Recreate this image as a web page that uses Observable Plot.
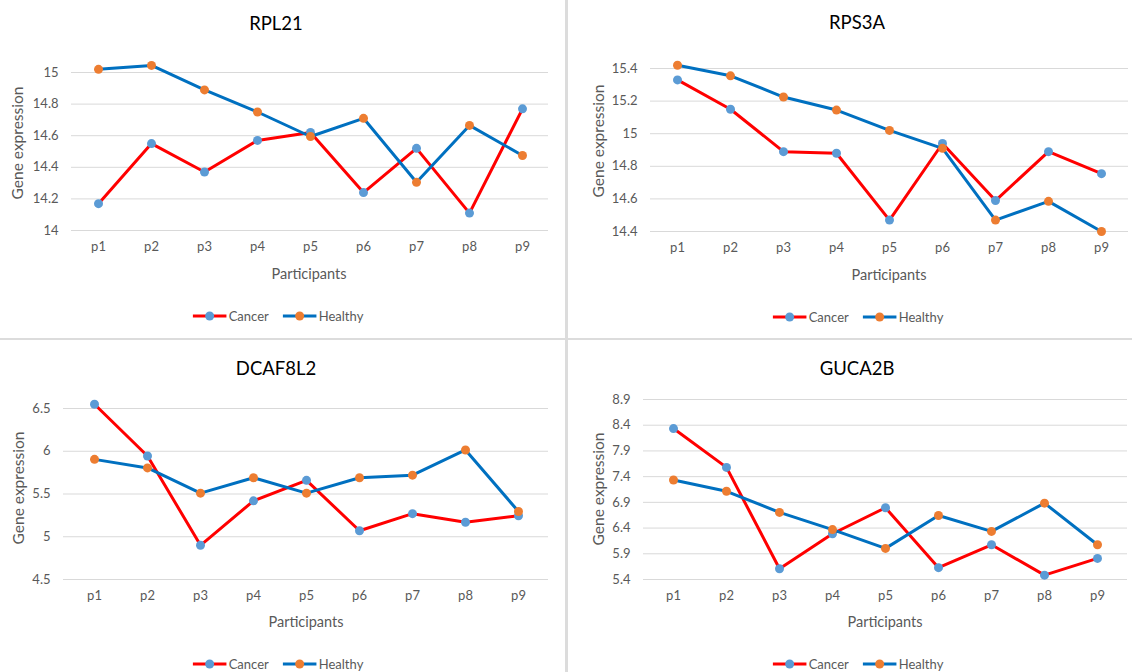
<!DOCTYPE html>
<html><head><meta charset="utf-8">
<script src="https://cdn.jsdelivr.net/npm/d3@7"></script>
<script src="https://cdn.jsdelivr.net/npm/@observablehq/plot@0.6"></script>
<style>
body{margin:0;background:#fff;font-family:Lato,"Open Sans",sans-serif;}
#root{position:relative;width:1132px;height:672px;overflow:hidden;background:#fff;}
.abs{position:absolute;}
.title{font-size:18.5px;color:#000;transform:translate(-50%,-50%);white-space:nowrap;}
.xlab{font-size:14.5px;color:#595959;transform:translate(-50%,-50%);white-space:nowrap;}
.ylab{font-size:15.5px;color:#595959;transform:translate(-50%,-50%) rotate(-90deg);white-space:nowrap;}
.legend{display:flex;align-items:center;gap:14px;transform:translate(-50%,-50%);font-size:13px;color:#595959;white-space:nowrap;}
.item{display:flex;align-items:center;gap:2px;}
.divider{position:absolute;background:#dcdcdc;}
</style></head><body><div id="root"></div>
<script>
const participants = ["p1","p2","p3","p4","p5","p6","p7","p8","p9"];
const seriesNames = ["Cancer","Healthy"];
const rpl21Cancer   = [14.17,14.55,14.37,14.57,14.62,14.24,14.52,14.11,14.77];
const rpl21Healthy  = [15.02,15.045,14.89,14.75,14.595,14.71,14.305,14.665,14.475];
const rps3aCancer   = [15.33,15.15,14.89,14.88,14.47,14.94,14.59,14.89,14.755];
const rps3aHealthy  = [15.42,15.355,15.225,15.145,15.02,14.91,14.47,14.585,14.40];
const dcaf8l2Cancer = [6.55,5.945,4.9,5.42,5.66,5.07,5.27,5.17,5.245];
const dcaf8l2Healthy= [5.905,5.805,5.51,5.69,5.51,5.69,5.72,6.015,5.295];
const guca2bCancer  = [8.335,7.58,5.61,6.29,6.795,5.63,6.075,5.485,5.81];
const guca2bHealthy = [7.335,7.115,6.705,6.37,6.005,6.645,6.335,6.885,6.075];
const rpl21Ticks   = [14,14.2,14.4,14.6,14.8,15];
const rps3aTicks   = [14.4,14.6,14.8,15,15.2,15.4];
const dcaf8l2Ticks = [4.5,5,5.5,6,6.5];
const guca2bTicks  = [5.4,5.9,6.4,6.9,7.4,7.9,8.4,8.9];
const titles = ["RPL21","RPS3A","DCAF8L2","GUCA2B"];
const xLabel = "Participants";
const yLabel = "Gene expression";

const lineColors = ["#FF0000","#0070C0"];
const markerColors = ["#5B9BD5","#ED7D31"];

const panels = [
  {title:titles[0], c:rpl21Cancer, h:rpl21Healthy, ticks:rpl21Ticks,
   left:0, top:0, width:566, height:260, mL:71, mR:18, mT:72, mB:30,
   tx:276, ty:23, xlx:309, xly:273, ylx:17, yly:143, lgx:278, lgy:316},
  {title:titles[1], c:rps3aCancer, h:rps3aHealthy, ticks:rps3aTicks,
   left:566, top:0, width:566, height:261, mL:84, mR:4, mT:68, mB:30,
   tx:857, ty:22, xlx:889, xly:274, ylx:598, yly:141, lgx:858, lgy:317},
  {title:titles[2], c:dcaf8l2Cancer, h:dcaf8l2Healthy, ticks:dcaf8l2Ticks,
   left:0, top:336, width:566, height:273, mL:63, mR:18, mT:72, mB:30,
   tx:276, ty:368, xlx:306, xly:621, ylx:18, yly:488, lgx:278, lgy:664},
  {title:titles[3], c:guca2bCancer, h:guca2bHealthy, ticks:guca2bTicks,
   left:566, top:336, width:566, height:273, mL:77, mR:5, mT:63, mB:30,
   tx:857, ty:368, xlx:885, xly:621, ylx:598, yly:489, lgx:858, lgy:664}
];

const root = document.getElementById("root");

function addDiv(cls, x, y, text){
  const d = document.createElement("div");
  d.className = "abs " + cls;
  d.style.left = x + "px"; d.style.top = y + "px";
  if (text != null) d.textContent = text;
  root.appendChild(d);
  return d;
}

function legendIcon(lineColor, markerColor){
  const ns = "http://www.w3.org/2000/svg";
  const s = document.createElementNS(ns,"svg");
  s.setAttribute("width","34"); s.setAttribute("height","12");
  const l = document.createElementNS(ns,"line");
  l.setAttribute("x1","0"); l.setAttribute("x2","34"); l.setAttribute("y1","6"); l.setAttribute("y2","6");
  l.setAttribute("stroke",lineColor); l.setAttribute("stroke-width","3");
  const c = document.createElementNS(ns,"circle");
  c.setAttribute("cx","17"); c.setAttribute("cy","6"); c.setAttribute("r","4.5");
  c.setAttribute("fill",markerColor);
  s.appendChild(l); s.appendChild(c);
  return s;
}

for (const p of panels) {
  const data = [];
  participants.forEach((id,i)=>{
    data.push({participant:id, series:seriesNames[0], value:p.c[i]});
    data.push({participant:id, series:seriesNames[1], value:p.h[i]});
  });
  const cancer = data.filter(d=>d.series===seriesNames[0]);
  const healthy = data.filter(d=>d.series===seriesNames[1]);
  const chart = Plot.plot({
    width:p.width, height:p.height,
    marginLeft:p.mL, marginRight:p.mR, marginTop:p.mT, marginBottom:p.mB,
    style:{fontFamily:"Lato, 'Open Sans', sans-serif", background:"transparent", overflow:"visible"},
    x:{type:"point", domain:participants, padding:0.5},
    y:{domain:[p.ticks[0], p.ticks[p.ticks.length-1]]},
    marks:[
      Plot.ruleY(p.ticks,{stroke:"#d9d9d9", strokeWidth:1}),
      Plot.axisX({tickSize:0, tickPadding:11, fontSize:13, fill:"#595959", label:null}),
      Plot.axisY({ticks:p.ticks, tickFormat:d=>String(d), tickSize:0, tickPadding:13, fontSize:13, fill:"#595959", label:null}),
      Plot.line(cancer,{x:"participant", y:"value", stroke:lineColors[0], strokeWidth:3}),
      Plot.dot(cancer,{x:"participant", y:"value", r:4.5, fill:markerColors[0], stroke:"none"}),
      Plot.line(healthy,{x:"participant", y:"value", stroke:lineColors[1], strokeWidth:3}),
      Plot.dot(healthy,{x:"participant", y:"value", r:4.5, fill:markerColors[1], stroke:"none"})
    ]
  });
  chart.style.position = "absolute";
  chart.style.left = p.left + "px";
  chart.style.top = p.top + "px";
  root.appendChild(chart);

  addDiv("title", p.tx, p.ty, p.title);
  addDiv("xlab", p.xlx, p.xly, xLabel);
  addDiv("ylab", p.ylx, p.yly, yLabel);
  const lg = addDiv("legend", p.lgx, p.lgy);
  seriesNames.forEach((name,i)=>{
    const it = document.createElement("div");
    it.className = "item";
    it.appendChild(legendIcon(lineColors[i], markerColors[i]));
    const t = document.createElement("span"); t.textContent = name;
    it.appendChild(t);
    lg.appendChild(it);
  });
}

// panel dividers
const v = document.createElement("div"); v.className="divider";
Object.assign(v.style,{left:"565px", top:"0px", width:"3px", height:"672px"});
root.appendChild(v);
const hz = document.createElement("div"); hz.className="divider";
Object.assign(hz.style,{left:"0px", top:"338px", width:"1132px", height:"2px"});
root.appendChild(hz);
</script></body></html>
